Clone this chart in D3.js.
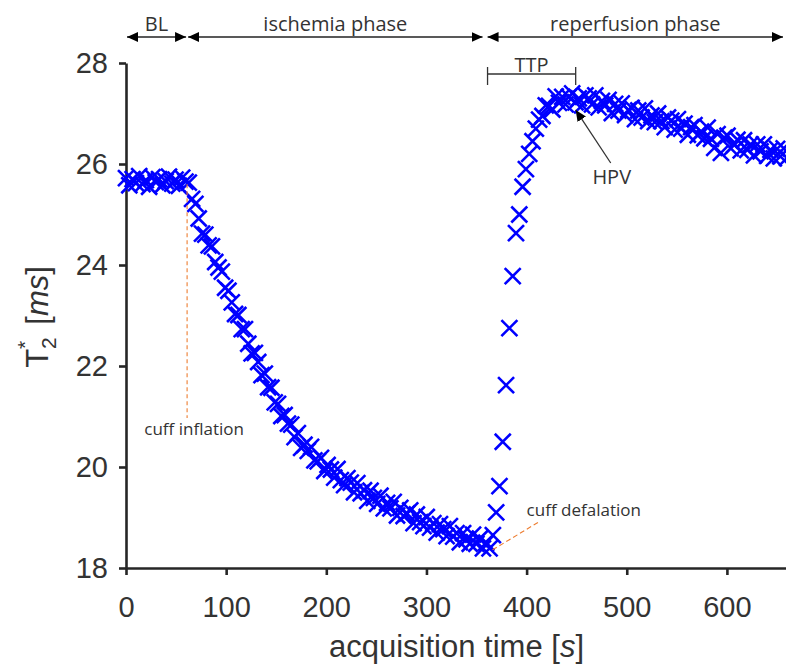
<!DOCTYPE html>
<html>
<head>
<meta charset="utf-8">
<script src="https://cdn.jsdelivr.net/npm/d3@7"></script>
<style>
  body { margin: 0; background: #fff; }
  svg { display: block; }
</style>
</head>
<body>
<div id="chart"></div>
<script>
const WIDTH = 786;
const HEIGHT = 664;

//T2* samples [ms], one every SAMPLE_INTERVAL seconds from t = 0
const SAMPLE_INTERVAL = 3.3;
const T2_VALUES = [
  // baseline
  25.72, 25.58, 25.70, 25.62, 25.76, 25.60, 25.68, 25.55, 25.74, 25.64,
  25.70, 25.58, 25.66, 25.75, 25.61, 25.69, 25.57, 25.73, 25.65,
  // ischemia
  25.63, 25.31, 25.21, 24.92, 24.62, 24.60, 24.39, 24.37, 24.06, 23.95,
  23.87, 23.55, 23.49, 23.26, 23.03, 23.01, 22.73, 22.73, 22.44, 22.25,
  22.26, 22.08, 21.82, 21.85, 21.58, 21.57, 21.28, 21.25, 21.01, 21.03,
  20.86, 20.84, 20.59, 20.67, 20.38, 20.44, 20.32, 20.40, 20.13, 20.11,
  20.18, 19.92, 20.04, 19.95, 19.79, 19.96, 19.74, 19.64, 19.78, 19.69,
  19.50, 19.68, 19.48, 19.54, 19.33, 19.53, 19.39, 19.27, 19.43, 19.18,
  19.29, 19.18, 19.31, 19.04, 19.19, 19.03, 19.08, 19.14, 18.89, 19.06,
  18.91, 18.83, 19.01, 18.80, 18.89, 18.70, 18.87, 18.77, 18.63, 18.83,
  18.62, 18.69, 18.51, 18.69, 18.57, 18.48, 18.66, 18.48, 18.58, 18.39,
  18.50, 18.39,
  // reperfusion
  18.65, 19.10, 19.62, 20.50, 21.62, 22.75, 23.78, 24.63, 25.00, 25.55,
  25.90, 26.20, 26.45, 26.70, 26.88, 26.95, 27.16, 27.15, 27.08, 27.34,
  27.21, 27.33, 27.18, 27.33, 27.40, 27.22, 27.30, 27.16, 27.36, 27.30,
  27.18, 27.36, 27.12, 27.25, 27.16, 27.27, 27.01, 27.19, 27.06, 27.20,
  26.97, 27.07, 27.11, 26.89, 27.06, 26.92, 27.10, 26.85, 26.96, 26.83,
  27.00, 26.85, 26.73, 26.92, 26.86, 26.68, 26.89, 26.70, 26.80, 26.58,
  26.73, 26.77, 26.57, 26.64, 26.51, 26.72, 26.50, 26.32, 26.59, 26.22,
  26.52, 26.56, 26.31, 26.38, 26.48, 26.27, 26.47, 26.28, 26.39, 26.17,
  26.39, 26.25, 26.39, 26.16, 26.28, 26.11, 26.30, 26.15, 26.31, 26.12
];

//Axes
const X_DOMAIN = [0, 660];
const Y_DOMAIN = [18, 28];
const X_TICKS = [0, 100, 200, 300, 400, 500, 600];
const Y_TICKS = [18, 20, 22, 24, 26, 28];

//Phase arrows along the top [start s, end s]
const PHASE_NAMES = ["BL", "ischemia phase", "reperfusion phase"];
const PHASE_SPANS = [[1, 60], [62, 356], [361, 656]];

//Annotations (data coordinates)
const TTP_SPAN = [361, 449];
const HPV_POINT = [449, 27.07];
const HPV_LABEL = [484, 26.02];
const CUFF_INFLATION = { t: 61, from: 25.6, to: 20.97 };
const CUFF_DEFLATION = { from: [366, 18.36], to: [412, 18.91] };

var data = T2_VALUES.map((v, i) => ({ t: i * SAMPLE_INTERVAL, v: v }));

var xScale = d3.scaleLinear().domain(X_DOMAIN).range([126, 787]);
var yScale = d3.scaleLinear().domain(Y_DOMAIN).range([568, 63]);

var svg = d3
  .select("#chart")
  .append("svg")
  .attr("width", WIDTH)
  .attr("height", HEIGHT);

var defs = svg.append("defs");
defs
  .append("marker")
  .attr("id", "head")
  .attr("viewBox", "0 0 11 10")
  .attr("refX", 11)
  .attr("refY", 5)
  .attr("markerWidth", 11)
  .attr("markerHeight", 10)
  .attr("markerUnits", "userSpaceOnUse")
  .attr("orient", "auto-start-reverse")
  .append("path")
  .attr("d", "M0,0L11,5L0,10Z")
  .attr("fill", "#000");

//Axes
var xAxis = d3.axisBottom(xScale).tickValues(X_TICKS).tickSize(7).tickSizeOuter(0).tickPadding(21);
var yAxis = d3.axisLeft(yScale).tickValues(Y_TICKS).tickSize(7).tickSizeOuter(0).tickPadding(11);

var gx = svg
  .append("g")
  .attr("transform", "translate(0," + yScale(18) + ")")
  .call(xAxis);

var gy = svg
  .append("g")
  .attr("transform", "translate(" + xScale(0) + ",0)")
  .call(yAxis);

[gx, gy].forEach((g) => {
  g.select(".domain").attr("stroke", "#262626").attr("stroke-width", 2.6);
  g.selectAll(".tick line").attr("stroke", "#262626").attr("stroke-width", 2.6);
  g.selectAll(".tick text")
    .attr("fill", "#333")
    .style("font-family", "'Liberation Sans', Arial, sans-serif")
    .style("font-size", "29px");
});

//Axis titles
var xLabel = svg
  .append("text")
  .attr("x", (xScale.range()[0] + xScale.range()[1]) / 2)
  .attr("y", 657)
  .attr("text-anchor", "middle")
  .attr("fill", "#333")
  .style("font-family", "'Liberation Sans', Arial, sans-serif")
  .style("font-size", "31px");
xLabel.append("tspan").text("acquisition time [");
xLabel.append("tspan").attr("font-style", "italic").text("s");
xLabel.append("tspan").text("]");

var yLabel = svg
  .append("text")
  .attr("transform", "translate(48,317) rotate(-90)")
  .attr("text-anchor", "middle")
  .attr("fill", "#333")
  .style("font-family", "'Liberation Sans', Arial, sans-serif")
  .style("font-size", "31px");
yLabel.append("tspan").text("T");
yLabel.append("tspan").attr("font-size", "21px").attr("dy", 8).text("2");
yLabel.append("tspan").attr("font-size", "21px").attr("dx", -11.7).attr("dy", -24).text("*");
yLabel.append("tspan").attr("dy", 16).attr("dx", 16).text("[");
yLabel.append("tspan").attr("font-style", "italic").text("ms");
yLabel.append("tspan").text("]");

//Scatter of x markers
svg
  .append("g")
  .selectAll("path")
  .data(data)
  .enter()
  .append("path")
  .attr("transform", (d) => "translate(" + xScale(d.t) + "," + yScale(d.v) + ")")
  .attr("d", "M-8,-8L8,8M-8,8L8,-8")
  .attr("stroke", "#0000ff")
  .attr("stroke-width", 2.6)
  .attr("fill", "none");

//Annotations
var ann = svg
  .append("g")
  .style("font-family", "'Open Sans', 'Noto Sans', sans-serif")
  .attr("fill", "#333");

//phase arrows
PHASE_SPANS.forEach((s, i) => {
  ann
    .append("line")
    .attr("x1", xScale(s[0]))
    .attr("x2", xScale(s[1]))
    .attr("y1", 37)
    .attr("y2", 37)
    .attr("stroke", "#222")
    .attr("stroke-width", 1.3)
    .attr("marker-start", "url(#head)")
    .attr("marker-end", "url(#head)");
  ann
    .append("text")
    .attr("x", (xScale(s[0]) + xScale(s[1])) / 2)
    .attr("y", 31)
    .attr("text-anchor", "middle")
    .style("font-size", "20px")
    .text(PHASE_NAMES[i]);
});

//TTP bracket
var ttp = ann.append("g").attr("stroke", "#333").attr("stroke-width", 1.3);
ttp.append("line").attr("x1", xScale(TTP_SPAN[0])).attr("x2", xScale(TTP_SPAN[1])).attr("y1", 74).attr("y2", 74);
TTP_SPAN.forEach((t) => {
  ttp.append("line").attr("x1", xScale(t)).attr("x2", xScale(t)).attr("y1", 67).attr("y2", 85);
});
ann
  .append("text")
  .attr("x", (xScale(TTP_SPAN[0]) + xScale(TTP_SPAN[1])) / 2)
  .attr("y", 72)
  .attr("text-anchor", "middle")
  .style("font-size", "20px")
  .text("TTP");

//HPV arrow
ann
  .append("line")
  .attr("x1", xScale(HPV_LABEL[0]))
  .attr("y1", yScale(HPV_LABEL[1]))
  .attr("x2", xScale(HPV_POINT[0]))
  .attr("y2", yScale(HPV_POINT[1]))
  .attr("stroke", "#333")
  .attr("stroke-width", 1.3)
  .attr("marker-end", "url(#head)");
ann
  .append("text")
  .attr("x", xScale(HPV_LABEL[0]) + 1)
  .attr("y", yScale(HPV_LABEL[1]) + 21)
  .attr("text-anchor", "middle")
  .style("font-size", "20px")
  .text("HPV");

//cuff inflation / deflation
ann
  .append("line")
  .attr("x1", xScale(CUFF_INFLATION.t))
  .attr("x2", xScale(CUFF_INFLATION.t))
  .attr("y1", yScale(CUFF_INFLATION.from))
  .attr("y2", yScale(CUFF_INFLATION.to))
  .attr("stroke", "#ed7d31")
  .attr("stroke-width", 1.1)
  .attr("stroke-dasharray", "4,3");
ann
  .append("text")
  .attr("x", xScale(CUFF_INFLATION.t) + 7)
  .attr("y", yScale(CUFF_INFLATION.to) + 17)
  .attr("text-anchor", "middle")
  .style("font-size", "17px")
  .text("cuff inflation");

ann
  .append("line")
  .attr("x1", xScale(CUFF_DEFLATION.from[0]))
  .attr("y1", yScale(CUFF_DEFLATION.from[1]))
  .attr("x2", xScale(CUFF_DEFLATION.to[0]))
  .attr("y2", yScale(CUFF_DEFLATION.to[1]))
  .attr("stroke", "#ed7d31")
  .attr("stroke-width", 1.1)
  .attr("stroke-dasharray", "5,3");
ann
  .append("text")
  .attr("x", xScale(CUFF_DEFLATION.to[0]) - 12)
  .attr("y", yScale(CUFF_DEFLATION.to[1]) - 6)
  .style("font-size", "17px")
  .text("cuff defalation");
</script>
</body>
</html>
